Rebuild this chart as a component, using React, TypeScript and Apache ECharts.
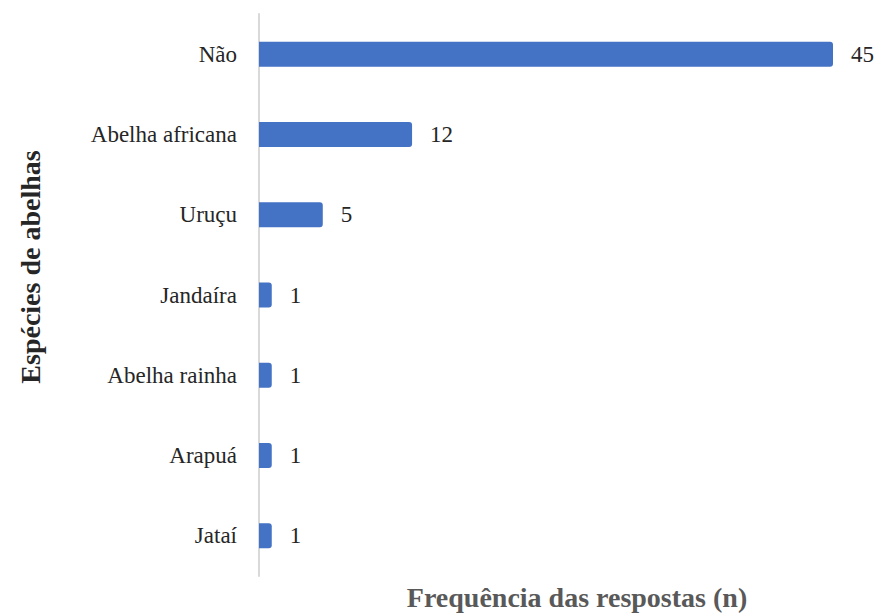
import React, { useEffect, useRef } from "react";
import * as echarts from "echarts";

const categories = ["Não", "Abelha africana", "Uruçu", "Jandaíra", "Abelha rainha", "Arapuá", "Jataí"];
const values = [45, 12, 5, 1, 1, 1, 1];
const xTitle = "Frequência das respostas (n)";
const yTitle = "Espécies de abelhas";

const FONT = "Times New Roman, Liberation Serif, DejaVu Serif, serif";

export default function App() {
  const ref = useRef<HTMLDivElement>(null);
  useEffect(() => {
    if (!ref.current) return;
    const chart = echarts.init(ref.current, undefined, { renderer: "svg" });
    chart.setOption({
      animation: false,
      backgroundColor: "#ffffff",
      textStyle: { fontFamily: FONT },
      grid: { left: 259, top: 14, right: 45, bottom: 37, containLabel: false },
      xAxis: {
        type: "value",
        min: 0,
        max: 45,
        show: false,
      },
      yAxis: {
        type: "category",
        inverse: true,
        data: categories,
        axisLine: { show: true, lineStyle: { color: "#d9d9d9", width: 2 } },
        axisTick: { show: false },
        axisLabel: { color: "#262626", fontFamily: FONT, fontSize: 23, margin: 22 },
      },
      series: [
        {
          type: "bar",
          data: values,
          barWidth: 25,
          itemStyle: { color: "#4472C4", borderRadius: [0, 3, 3, 0] },
          label: {
            show: true,
            position: "right",
            distance: 18,
            color: "#262626",
            fontFamily: FONT,
            fontSize: 23,
          },
        },
      ],
      graphic: [
        {
          type: "text",
          x: 577,
          y: 597,
          style: {
            text: xTitle,
            fontFamily: FONT,
            fontSize: 28,
            fontWeight: "bold",
            fill: "#595959",
            align: "center",
            verticalAlign: "middle",
          },
        },
        {
          type: "text",
          x: 30,
          y: 267,
          rotation: Math.PI / 2,
          style: {
            text: yTitle,
            fontFamily: FONT,
            fontSize: 28,
            fontWeight: "bold",
            fill: "#262626",
            align: "center",
            verticalAlign: "middle",
          },
        },
      ],
    });
    return () => chart.dispose();
  }, []);
  return <div ref={ref} style={{ width: 878, height: 613, position: "absolute", left: 0, top: 0 }} />;
}
